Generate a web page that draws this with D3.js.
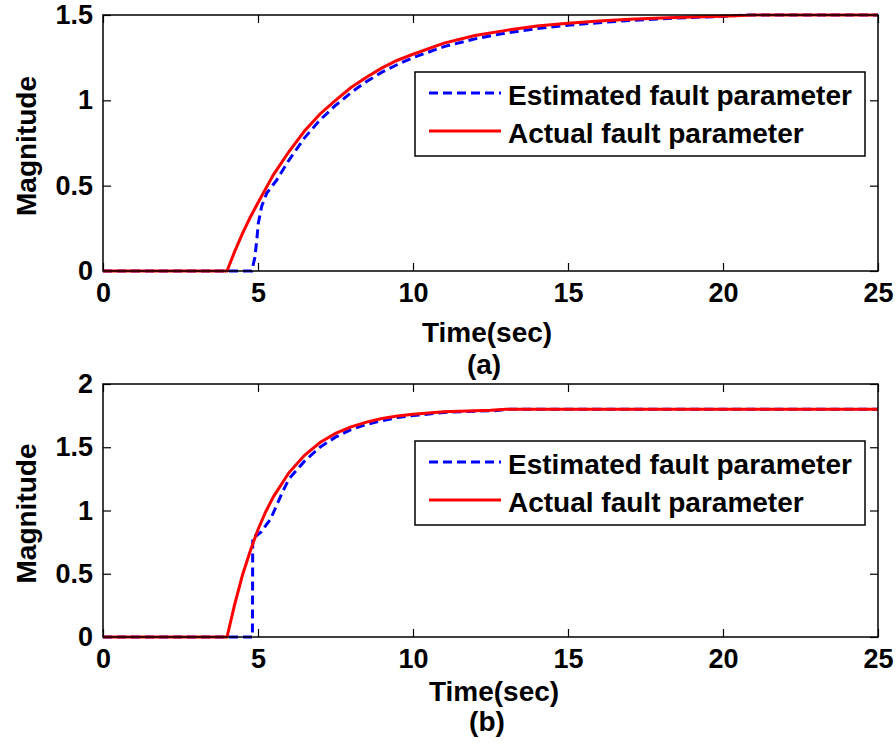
<!DOCTYPE html>
<html><head><meta charset="utf-8">
<script src="https://cdn.jsdelivr.net/npm/d3@7/dist/d3.min.js"></script>
<style>
body{margin:0;background:#fff;}
text{font-family:Arial,"Liberation Sans",sans-serif;font-weight:bold;fill:#000;}
</style></head><body>
<svg id="chart" width="896" height="744"></svg>
<script>
// ---- Data ----
const xTicks = [0, 5, 10, 15, 20, 25];
const yTicksA = [0, 0.5, 1, 1.5];
const yTicksB = [0, 0.5, 1, 1.5, 2];
const seriesNames = ["Estimated fault parameter", "Actual fault parameter"];

// (a) estimated
const timeEstA = [0, 4.8, 4.9, 4.96, 5.01, 5.12, 5.28, 5.6, 6, 6.5, 7, 7.5, 8, 8.5, 9, 9.5, 10, 11, 12, 13, 14, 15, 16, 17, 18, 19, 20, 20.8, 25];
const valEstA  = [0, 0, 0.08, 0.18, 0.28, 0.38, 0.455, 0.533, 0.65, 0.78, 0.885, 0.97, 1.045, 1.11, 1.165, 1.21, 1.25, 1.315, 1.36, 1.395, 1.42, 1.44, 1.455, 1.468, 1.478, 1.486, 1.492, 1.5, 1.5];
// (a) actual
const timeActA = [0, 4, 4.25, 4.5, 4.75, 5, 5.5, 6, 6.5, 7, 7.5, 8, 8.5, 9, 9.5, 10, 11, 12, 13, 14, 15, 16, 17, 18, 19, 20, 21, 25];
const valActA  = [0, 0, 0.115, 0.22, 0.315, 0.40, 0.565, 0.70, 0.82, 0.92, 1.0, 1.075, 1.135, 1.19, 1.235, 1.27, 1.335, 1.38, 1.41, 1.435, 1.452, 1.465, 1.475, 1.482, 1.488, 1.492, 1.5, 1.5];

// (b) estimated
const timeEstB = [0, 4.82, 4.83, 4.95, 5.1, 5.4, 5.8, 6, 6.5, 7, 7.5, 8, 8.5, 9, 9.5, 10, 11, 12, 12.7, 13, 25];
const valEstB  = [0, 0, 0.80, 0.80, 0.83, 0.93, 1.15, 1.25, 1.39, 1.50, 1.58, 1.64, 1.68, 1.71, 1.735, 1.75, 1.775, 1.785, 1.79, 1.8, 1.8];
// (b) actual
const timeActB = [0, 4, 4.25, 4.5, 4.75, 5, 5.25, 5.5, 6, 6.5, 7, 7.5, 8, 8.5, 9, 9.5, 10, 11, 12, 12.5, 13, 25];
const valActB  = [0, 0, 0.26, 0.49, 0.68, 0.85, 0.99, 1.11, 1.30, 1.437, 1.537, 1.609, 1.661, 1.699, 1.727, 1.747, 1.761, 1.78, 1.789, 1.792, 1.8, 1.8];

const panels = [
  {top: 15, bottom: 271, ymax: 1.5, yTicks: yTicksA, est: [timeEstA, valEstA], act: [timeActA, valActA], caption: "(a)",
   xlabX: 487, xlabY: 342, capX: 484, capY: 374, legTop: 72},
  {top: 384, bottom: 637, ymax: 2, yTicks: yTicksB, est: [timeEstB, valEstB], act: [timeActB, valActB], caption: "(b)",
   xlabX: 494, xlabY: 701, capX: 487, capY: 731, legTop: 441}
];

const svg = d3.select("#chart");
const left = 103, right = 878;
const x = d3.scaleLinear().domain([0, 25]).range([left, right]);
const tickLen = 8;

panels.forEach(p => {
  const y = d3.scaleLinear().domain([0, p.ymax]).range([p.bottom, p.top]);
  const g = svg.append("g");

  // ticks (inward, all four sides)
  g.append("g").attr("transform", `translate(0,${p.bottom})`)
    .call(d3.axisBottom(x).tickValues(xTicks).tickSizeInner(-tickLen).tickSizeOuter(0).tickPadding(12).tickFormat(d3.format("d")))
    .call(a => { a.select(".domain").remove(); a.selectAll("line").attr("stroke", "#000").attr("stroke-width", 1.2);
      a.selectAll("text").attr("font-size", 27).attr("dy", "0.71em").attr("y", 12).attr("font-family", null); });
  g.append("g").attr("transform", `translate(0,${p.top})`)
    .call(d3.axisTop(x).tickValues(xTicks).tickSizeInner(-tickLen).tickSizeOuter(0).tickFormat(""))
    .call(a => { a.select(".domain").remove(); a.selectAll("line").attr("stroke", "#000").attr("stroke-width", 1.2); });
  g.append("g").attr("transform", `translate(${left},0)`)
    .call(d3.axisLeft(y).tickValues(p.yTicks).tickSizeInner(-tickLen).tickSizeOuter(0).tickPadding(10).tickFormat(d => d3.format("")(d)))
    .call(a => { a.select(".domain").remove(); a.selectAll("line").attr("stroke", "#000").attr("stroke-width", 1.2);
      a.selectAll("text").attr("font-size", 27).attr("x", -10).attr("font-family", null); });
  g.append("g").attr("transform", `translate(${right},0)`)
    .call(d3.axisRight(y).tickValues(p.yTicks).tickSizeInner(-tickLen).tickSizeOuter(0).tickFormat(""))
    .call(a => { a.select(".domain").remove(); a.selectAll("line").attr("stroke", "#000").attr("stroke-width", 1.2); });

  const line = d3.line().x(d => x(d[0])).y(d => y(d[1]));
  const estPts = p.est[0].map((t, i) => [t, p.est[1][i]]);
  const actPts = p.act[0].map((t, i) => [t, p.act[1][i]]);
  g.append("path").datum(estPts).attr("d", line).attr("fill", "none")
    .attr("stroke", "#0000ff").attr("stroke-width", 3).attr("stroke-dasharray", "9,5");
  g.append("path").datum(actPts).attr("d", line).attr("fill", "none")
    .attr("stroke", "#ff0000").attr("stroke-width", 3);

  // box
  g.append("rect").attr("x", left).attr("y", p.top).attr("width", right - left).attr("height", p.bottom - p.top)
    .attr("fill", "none").attr("stroke", "#000").attr("stroke-width", 1.5);

  // legend
  const lg = g.append("g").attr("transform", `translate(415,${p.legTop})`);
  lg.append("rect").attr("x", 0).attr("y", 0).attr("width", 450).attr("height", 84)
    .attr("fill", "#fff").attr("stroke", "#000").attr("stroke-width", 1.5);
  const styles = [{c: "#0000ff", dash: "9,5"}, {c: "#ff0000", dash: null}];
  seriesNames.forEach((name, i) => {
    const yy = 21 + i * 38;
    lg.append("line").attr("x1", 14).attr("x2", 86).attr("y1", yy).attr("y2", yy)
      .attr("stroke", styles[i].c).attr("stroke-width", 3).attr("stroke-dasharray", styles[i].dash);
    lg.append("text").attr("x", 93).attr("y", yy + 12).attr("font-size", 28).text(name);
  });

  // labels
  svg.append("text").attr("x", p.xlabX).attr("y", p.xlabY).attr("text-anchor", "middle").attr("font-size", 28).text("Time(sec)");
  svg.append("text").attr("x", p.capX).attr("y", p.capY).attr("text-anchor", "middle").attr("font-size", 28).text(p.caption);
  svg.append("text").attr("transform", `translate(36,${(p.top + p.bottom) / 2 + 3}) rotate(-90)`)
    .attr("text-anchor", "middle").attr("font-size", 28).text("Magnitude");
});
</script>
</body></html>
